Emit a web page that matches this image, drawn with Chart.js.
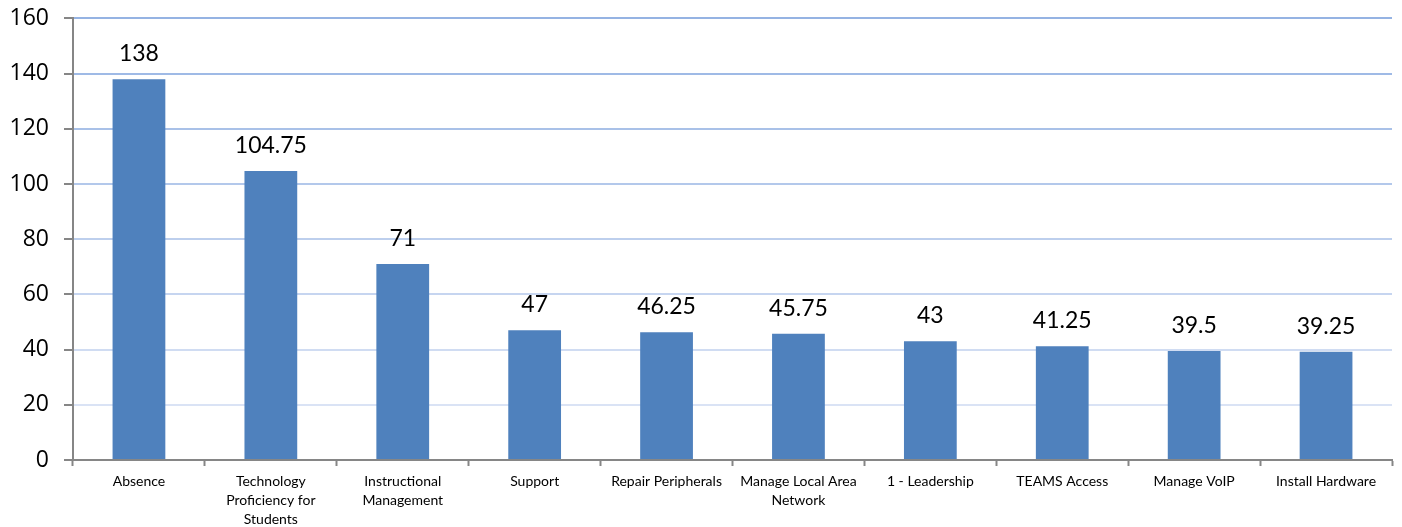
<!DOCTYPE html>
<html>
<head>
<meta charset="utf-8">
<script src="https://cdn.jsdelivr.net/npm/chart.js@4"></script>
<style>
  html, body { margin: 0; padding: 0; background: #fff; }
  #wrap { width: 1402px; height: 527px; }
</style>
</head>
<body>
<div id="wrap"><canvas id="chart"></canvas></div>
<script>
const categories = [
  'Absence',
  ['Technology', 'Proficiency for', 'Students'],
  ['Instructional', 'Management'],
  'Support',
  'Repair Peripherals',
  ['Manage Local Area', 'Network'],
  '1 - Leadership',
  'TEAMS Access',
  'Manage VoIP',
  'Install Hardware'
];
const values = [138, 104.75, 71, 47, 46.25, 45.75, 43, 41.25, 39.5, 39.25];
const yTicks = [0, 20, 40, 60, 80, 100, 120, 140, 160];

const FONT = 'Lato, "Open Sans", sans-serif';

// grid lines fade from darker blue at the top to pale at the bottom
const gridTop = [149, 179, 227];
const gridBottom = [228, 234, 247];
function gridColor(ctx) {
  const v = ctx.tick ? ctx.tick.value : 0;
  if (v === 0) return 'rgba(0,0,0,0)';
  const t = v / 160;
  const c = gridBottom.map((b, i) => Math.round(b + (gridTop[i] - b) * t));
  return `rgb(${c[0]},${c[1]},${c[2]})`;
}

const barLabels = {
  id: 'barLabels',
  afterDatasetsDraw(chart) {
    const ctx = chart.ctx;
    const meta = chart.getDatasetMeta(0);
    ctx.save();
    ctx.font = '23px ' + FONT;
    ctx.fillStyle = '#000';
    ctx.textAlign = 'center';
    ctx.textBaseline = 'alphabetic';
    meta.data.forEach((bar, i) => {
      ctx.fillText(String(values[i]), bar.x, bar.y - 18);
    });
    ctx.restore();
  }
};

new Chart(document.getElementById('chart'), {
  type: 'bar',
  data: {
    labels: categories,
    datasets: [{
      data: values,
      backgroundColor: '#4F81BD',
      borderWidth: 0,
      categoryPercentage: 1,
      barPercentage: 0.4
    }]
  },
  options: {
    responsive: true,
    maintainAspectRatio: false,
    animation: false,
    layout: { padding: { top: 18, right: 10, left: 0, bottom: 0 } },
    plugins: {
      legend: { display: false },
      tooltip: { enabled: false }
    },
    scales: {
      x: {
        afterFit(scale) { scale.height = 67; },
        grid: {
          display: true,
          offset: true,
          drawOnChartArea: false,
          drawTicks: true,
          tickLength: 6,
          tickColor: '#868686',
          tickWidth: 2
        },
        border: { display: true, color: '#868686', width: 2 },
        ticks: {
          color: '#000',
          font: { family: FONT, size: 14, lineHeight: 1.35 },
          maxRotation: 0,
          autoSkip: false,
          padding: 6
        }
      },
      y: {
        min: 0,
        max: 160,
        afterFit(scale) { scale.width = 73; },
        afterBuildTicks(scale) { scale.ticks = yTicks.map(v => ({ value: v })); },
        grid: {
          color: gridColor,
          lineWidth: 2,
          drawTicks: true,
          tickLength: 9,
          tickColor: '#868686',
          tickWidth: 2
        },
        border: { display: true, color: '#868686', width: 2 },
        ticks: {
          color: '#000',
          font: { family: '"Open Sans", sans-serif', size: 23, lineHeight: 0.3 },
          padding: 15
        }
      }
    }
  },
  plugins: [barLabels]
});
</script>
</body>
</html>
